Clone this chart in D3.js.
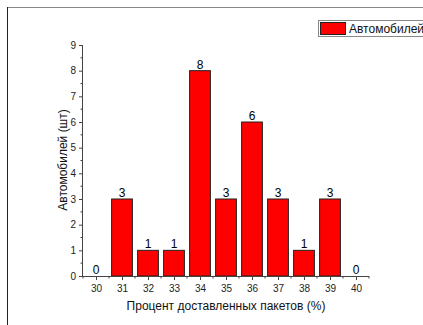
<!DOCTYPE html>
<html><head><meta charset="utf-8">
<script src="https://cdn.jsdelivr.net/npm/d3@7"></script>
<style>
body{margin:0;background:#fff;}
text{font-family:"Liberation Sans",Arial,sans-serif;}
</style></head>
<body><svg id="c" width="423" height="325"></svg>
<script>
const categories = [30,31,32,33,34,35,36,37,38,39,40];
const values = [0,3,1,1,8,3,6,3,1,3,0];
const yTicks = [0,1,2,3,4,5,6,7,8,9];
const seriesName = "Автомобилей";
const xTitle = "Процент доставленных пакетов (%)";
const yTitle = "Автомобилей (шт)";

const svg = d3.select("#c");
// frame
svg.append("line").attr("x1",7).attr("x2",423).attr("y1",7.5).attr("y2",7.5).attr("stroke","#888").attr("stroke-width",1);
svg.append("line").attr("x1",7.5).attr("x2",7.5).attr("y1",7).attr("y2",325).attr("stroke","#222").attr("stroke-width",1);

const x = d3.scaleLinear().domain([29.5,40.5]).range([83,369]);
const y = d3.scaleLinear().domain([0,9]).range([276,45]);
const bw = (x(1)-x(0))*0.8;

const g = svg.append("g");
g.selectAll("rect.bar").data(categories.map((c,i)=>({c,v:values[i]})).filter(d=>d.v>0))
 .enter().append("rect").attr("class","bar")
 .attr("x",d=>x(d.c)-bw/2).attr("width",bw)
 .attr("y",d=>y(d.v)).attr("height",d=>y(0)-y(d.v))
 .attr("fill","#ff0000").attr("stroke","#222").attr("stroke-width",1);

g.selectAll("text.val").data(categories.map((c,i)=>({c,v:values[i]})))
 .enter().append("text").attr("class","val")
 .attr("x",d=>x(d.c)).attr("y",d=>y(d.v)-2)
 .attr("text-anchor","middle").attr("font-size",12).attr("fill","#000")
 .text(d=>d.v);

// x axis
const xAxis = d3.axisBottom(x).tickValues(categories).tickSize(4).tickFormat(d3.format("d"));
const gx = svg.append("g").attr("transform",`translate(0,${y(0)})`).call(xAxis);
gx.select(".domain").attr("stroke","#444").attr("d",`M83,0.5H369`);
gx.selectAll(".tick line").attr("stroke","#444");
gx.selectAll(".tick text").attr("font-size",10).attr("fill","#222").attr("dy","0.9em").style("font-family","Liberation Sans, Arial, sans-serif");
const xMinor = d3.range(29.5,40.6,1);
gx.selectAll("line.minor").data(xMinor).enter().append("line").attr("class","minor")
 .attr("x1",d=>x(d)).attr("x2",d=>x(d)).attr("y1",0).attr("y2",2.5).attr("stroke","#444");

// y axis
const yAxis = d3.axisLeft(y).tickValues(yTicks).tickSize(4).tickFormat(d3.format("d"));
const gy = svg.append("g").attr("transform",`translate(83,0)`).call(yAxis);
gy.select(".domain").attr("stroke","#444").attr("d",`M-0.5,${y(0)}V${y(9)}`);
gy.selectAll(".tick line").attr("stroke","#444");
gy.selectAll(".tick text").attr("font-size",10).attr("fill","#222").style("font-family","Liberation Sans, Arial, sans-serif");
const yMinor = d3.range(0.5,9,1);
gy.selectAll("line.minor").data(yMinor).enter().append("line").attr("class","minor")
 .attr("x1",0).attr("x2",-2.5).attr("y1",d=>y(d)).attr("y2",d=>y(d)).attr("stroke","#444");

// titles
svg.append("text").attr("x",(83+369)/2).attr("y",310).attr("text-anchor","middle").attr("font-size",12).attr("fill","#111").text(xTitle);
svg.append("text").attr("transform","translate(67,160) rotate(-90)").attr("text-anchor","middle").attr("font-size",12).attr("fill","#111").text(yTitle);

// legend
const lg = svg.append("g");
lg.append("rect").attr("x",318.5).attr("y",20.5).attr("width",120).attr("height",16).attr("fill","#fff").attr("stroke","#888");
lg.append("rect").attr("x",320.5).attr("y",22.5).attr("width",25).attr("height",12).attr("fill","#ff0000").attr("stroke","#222");
lg.append("text").attr("x",349).attr("y",33).attr("font-size",12).attr("fill","#111").text(seriesName);
</script></body></html>
